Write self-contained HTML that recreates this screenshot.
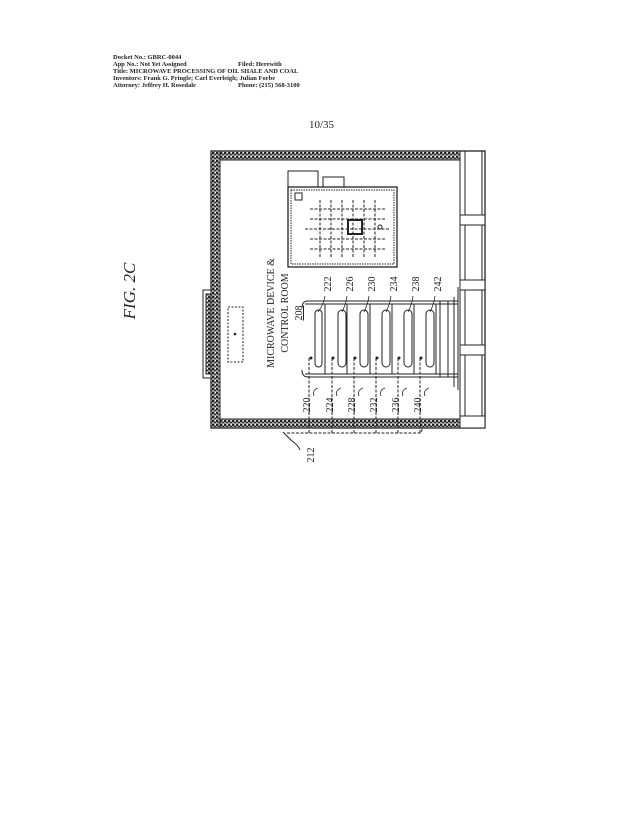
<!DOCTYPE html>
<html><head><style>
html,body{margin:0;padding:0;background:#fff;}
svg{display:block;}
text{font-family:"Liberation Serif",serif;fill:#222;}
</style></head><body>
<svg width="638" height="824" viewBox="0 0 638 824" xmlns="http://www.w3.org/2000/svg">
<defs>
<pattern id="h" width="4" height="4" patternUnits="userSpaceOnUse">
<rect width="4" height="4" fill="#999"/>
<rect x="0" y="0" width="2" height="2" fill="#222"/>
<rect x="2" y="2" width="2" height="1" fill="#333"/>
<rect x="3" y="0" width="1" height="1" fill="#fff"/>
</pattern>
</defs>
<g font-size="6.5" font-weight="bold">
<text x="113" y="59">Docket No.: GBRC-0044</text>
<text x="113" y="66">App No.: Not Yet Assigned</text><text x="238" y="66">Filed: Herewith</text>
<text x="113" y="73">Title: MICROWAVE PROCESSING OF OIL SHALE AND COAL</text>
<text x="113" y="80">Inventors: Frank G. Pringle; Carl Everleigh; Julian Forbe</text>
<text x="113" y="87">Attorney: Jeffrey H. Rosedale</text><text x="238" y="87">Phone: (215) 568-3100</text>
</g>
<text x="309" y="128" font-size="11">10/35</text>
<text transform="translate(135,291) rotate(-90)" font-size="17" font-style="italic" text-anchor="middle">FIG. 2C</text>
<g stroke="#222" fill="none" stroke-width="1">
<rect x="211" y="151" width="274" height="277" stroke-width="1.3"/>
<rect x="211" y="151" width="249" height="9" fill="url(#h)"/>
<rect x="211" y="419" width="249" height="9" fill="url(#h)"/>
<rect x="211" y="151" width="9" height="277" fill="url(#h)"/>
<rect x="220" y="160" width="240" height="259"/>
<line x1="465" y1="151" x2="465" y2="428"/>
<line x1="482" y1="151" x2="482" y2="428"/>
<rect x="460" y="215" width="25" height="10" fill="#fff"/>
<rect x="460" y="280" width="25" height="10" fill="#fff"/>
<rect x="460" y="345" width="25" height="10" fill="#fff"/>
<rect x="460" y="416" width="25" height="12" fill="#fff"/>
<rect x="203" y="290" width="8" height="88" fill="#fff"/>
<rect x="206" y="294" width="5" height="80" fill="url(#h)"/>
<rect x="228" y="307" width="15" height="55" stroke-dasharray="2,1.5"/>
<circle cx="235" cy="334" r="0.8" fill="#222"/>
<rect x="288" y="171" width="30" height="16"/>
<rect x="323" y="177" width="21" height="10"/>
<rect x="288" y="187" width="109" height="80" stroke-width="1.3"/>
<rect x="291" y="190" width="103" height="74" stroke-dasharray="1.5,1"/>
<rect x="295" y="193" width="7" height="7"/>
<g stroke-dasharray="3,1.5">
<line x1="310" y1="209" x2="385" y2="209"/><line x1="310" y1="219" x2="385" y2="219"/>
<line x1="305" y1="229" x2="390" y2="229"/><line x1="310" y1="239" x2="385" y2="239"/>
<line x1="310" y1="249" x2="385" y2="249"/>
<line x1="320" y1="200" x2="320" y2="257"/><line x1="331" y1="200" x2="331" y2="257"/>
<line x1="342" y1="200" x2="342" y2="257"/><line x1="353" y1="200" x2="353" y2="257"/>
<line x1="364" y1="200" x2="364" y2="257"/><line x1="375" y1="200" x2="375" y2="257"/>
</g>
<rect x="348" y="220" width="14" height="14" stroke-width="2"/>
<circle cx="380" cy="227" r="2"/>
<path d="M308 301 H458 M308 377 H458 M308 301 Q302 301 302 308 M308 377 Q302 377 302 370"/>
<line x1="305" y1="304" x2="458" y2="304"/>
<line x1="305" y1="374" x2="458" y2="374"/>
<line x1="440" y1="301" x2="440" y2="377"/>
<line x1="448" y1="301" x2="448" y2="377"/>
<line x1="454" y1="297" x2="454" y2="387"/>
<line x1="458" y1="287" x2="458" y2="390"/>
<line x1="325" y1="304" x2="325" y2="374"/>
<line x1="347" y1="304" x2="347" y2="374"/>
<line x1="370" y1="304" x2="370" y2="374"/>
<line x1="392" y1="304" x2="392" y2="374"/>
<line x1="414" y1="304" x2="414" y2="374"/>
<line x1="436" y1="304" x2="436" y2="374"/>
<g>
<rect x="315" y="310" width="7" height="57" rx="3.5"/>
<rect x="338" y="310" width="8" height="57" rx="4"/>
<rect x="360" y="310" width="8" height="57" rx="4"/>
<rect x="382" y="310" width="8" height="57" rx="4"/>
<rect x="404" y="310" width="8" height="57" rx="4"/>
<rect x="426" y="310" width="8" height="57" rx="4"/>
</g>
<g fill="#222" stroke="none">
<circle cx="311" cy="358" r="1.5"/><circle cx="333" cy="358" r="1.5"/><circle cx="355" cy="358" r="1.5"/>
<circle cx="377" cy="358" r="1.5"/><circle cx="399" cy="358" r="1.5"/><circle cx="421" cy="358" r="1.5"/>
</g>
<g stroke-dasharray="3,1.5">
<line x1="309" y1="358" x2="309" y2="433"/><line x1="332" y1="358" x2="332" y2="433"/>
<line x1="354" y1="358" x2="354" y2="433"/><line x1="376" y1="358" x2="376" y2="433"/>
<line x1="398" y1="358" x2="398" y2="433"/><line x1="420" y1="358" x2="420" y2="433"/>
<path d="M287 433 H420 Q422 433 422 428"/>
</g>
<path d="M283 432 Q287 436 292 441 M300 450 Q298 445 292 441"/>
<g stroke-width="0.8">
<path d="M314 396 Q312 390 318 388"/><path d="M337 396 Q335 390 341 388"/>
<path d="M359 396 Q357 390 363 388"/><path d="M381 396 Q379 390 385 388"/>
<path d="M403 396 Q401 390 407 388"/><path d="M425 396 Q423 390 429 388"/>
<path d="M325 296 Q324 304 318 312"/><path d="M347 296 Q346 304 342 312"/>
<path d="M369 296 Q368 304 364 312"/><path d="M391 296 Q390 304 386 312"/>
<path d="M413 296 Q412 304 408 312"/><path d="M435 296 Q434 304 430 312"/>
</g>
</g>
<g font-size="10" text-anchor="middle">
<text transform="translate(274,313) rotate(-90)">MICROWAVE DEVICE &amp;</text>
<text transform="translate(288,313) rotate(-90)">CONTROL ROOM</text>
<text transform="translate(302,313) rotate(-90)" text-decoration="underline">208</text>
<text transform="translate(331,284) rotate(-90)">222</text>
<text transform="translate(353,284) rotate(-90)">226</text>
<text transform="translate(375,284) rotate(-90)">230</text>
<text transform="translate(397,284) rotate(-90)">234</text>
<text transform="translate(419,284) rotate(-90)">238</text>
<text transform="translate(441,284) rotate(-90)">242</text>
<text transform="translate(310,405) rotate(-90)">220</text>
<text transform="translate(333,405) rotate(-90)">224</text>
<text transform="translate(355,405) rotate(-90)">228</text>
<text transform="translate(377,405) rotate(-90)">232</text>
<text transform="translate(399,405) rotate(-90)">236</text>
<text transform="translate(421,405) rotate(-90)">240</text>
<text transform="translate(314,455) rotate(-90)">212</text>
</g>
</svg>
</body></html>
